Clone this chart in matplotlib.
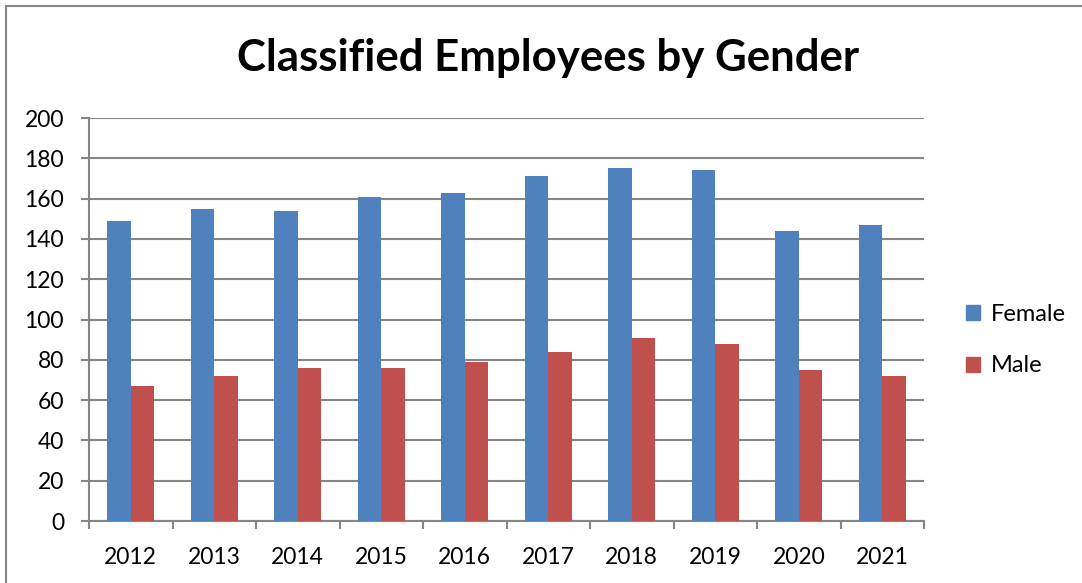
import matplotlib
matplotlib.use("Agg")
import matplotlib.pyplot as plt
import numpy as np
from matplotlib.patches import Rectangle, Patch

years = ["2012", "2013", "2014", "2015", "2016", "2017", "2018", "2019", "2020", "2021"]
female = [149, 155, 154, 161, 163, 171, 175, 174, 144, 147]
male = [67, 72, 76, 76, 79, 84, 91, 88, 75, 72]

plt.rcParams['font.family'] = ['Lato', 'DejaVu Sans']

W, H = 1082, 583
fig = plt.figure(figsize=(W / 100, H / 100), dpi=100)
ax = fig.add_axes([89 / W, 1 - 521 / H, (924 - 89) / W, (521 - 118) / H])

x = np.arange(len(years))
bw = 0.283
ax.bar(x - bw / 2, female, bw, color="#4F81BD", label="Female", zorder=3)
ax.bar(x + bw / 2, male, bw, color="#C0504D", label="Male", zorder=3)

grid_c = "#868686"
ax.set_ylim(0, 200)
ax.set_xlim(-0.5, len(years) - 0.5)
ax.set_yticks(range(0, 201, 20))
ax.yaxis.grid(True, color=grid_c, linewidth=1.5, zorder=0)
ax.set_xticks(x)
ax.set_xticklabels(years)
ax.set_xticks(np.arange(-0.5, len(years), 1), minor=True)
ax.tick_params(axis="x", which="major", length=0, pad=19, labelsize=16.5)
ax.tick_params(axis="x", which="minor", length=6, width=1.5, color=grid_c)
ax.tick_params(axis="y", length=6, width=1.5, color=grid_c, pad=12, labelsize=16.5)
for s in ["top", "right"]:
    ax.spines[s].set_visible(False)
for s in ["left", "bottom"]:
    ax.spines[s].set_color(grid_c)
    ax.spines[s].set_linewidth(1.5)

fig.text(548 / W, 1 - 58 / H, "Classified Employees by Gender", ha="center", va="center",
         fontsize=31.5, fontweight="bold")

handles = [Patch(color="#4F81BD"), Patch(color="#C0504D")]
fig.legend(handles, ["Female", "Male"], loc="center left", bbox_to_anchor=(945 / W, 1 - 340 / H),
           frameon=False, fontsize=17, handlelength=0.6, handleheight=0.6, handletextpad=0.45,
           labelspacing=1.3)

fig.patches.append(Rectangle((6 / W, -0.1), 1.2, 1 - 6 / H + 0.1, transform=fig.transFigure,
                             fill=False, edgecolor="#868686", linewidth=1.5))

fig.savefig("out.png", dpi=100)
